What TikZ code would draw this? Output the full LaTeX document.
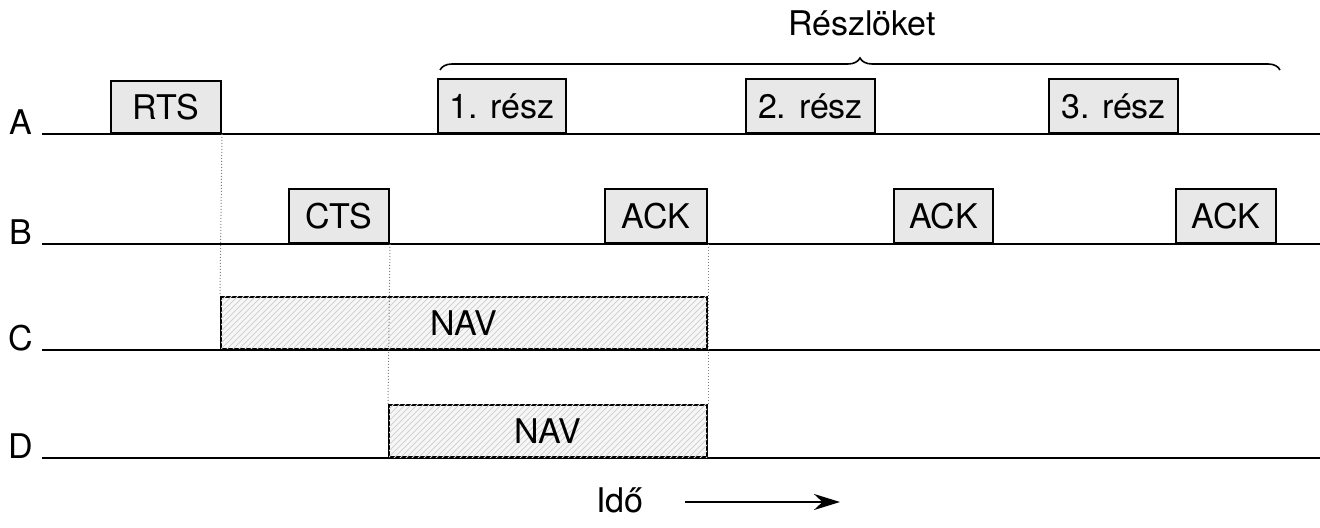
\documentclass[tikz,border=0pt]{standalone}
\usepackage{fontspec}
\setmainfont{TeX Gyre Heros}
\usetikzlibrary{arrows.meta, positioning, calc, decorations.pathreplacing, patterns}

\begin{document}
\begin{tikzpicture}[x=0.5pt, y=-0.5pt, >=Stealth,
    font=\fontsize{17}{20}\selectfont,
    pw/.style={minimum width=#1*0.5pt},
    pkt/.style={draw, line width=1pt, fill=gray!18, inner sep=0pt,
      minimum height=27pt, anchor=south west},
    nav/.style={pkt, minimum height=26pt, fill=gray!6, postaction={pattern=north east lines, pattern color=gray!35}},
    guide/.style={densely dotted, gray, line width=0.5pt}]
  \useasboundingbox (0,0) rectangle (1320,528);
  % Stations and their time lines
  \foreach \n/\y in {A/134, B/244, C/350, D/458} {
    \node (lbl\n) at (21,\y-12) {\n};
    \coordinate (\n0) at (42,\y);
    \coordinate (\n1) at (1320,\y);
    \draw[line width=1pt] (\n0) -- (\n1);
  }
  % A: RTS and the fragments
  \node[pkt, pw=110, minimum height=26pt] (rts) at (110,134) {RTS};
  \node[pkt, pw=128] (p1) at (437,134) {1. rész};
  \node[pkt, pw=129] (p2) at (745,134) {2. rész};
  \node[pkt, pw=129] (p3) at (1048,134) {3. rész};
  % B: CTS and the acknowledgements
  \node[pkt, pw=100] (cts) at (288,244) {CTS};
  \node[pkt, pw=102] (ack1) at (604,244) {ACK};
  \node[pkt, pw=99] (ack2) at (893,244) {ACK};
  \node[pkt, pw=100] (ack3) at (1175,244) {ACK};
  % C and D: network allocation vectors
  \node[nav, pw=486] (navc) at (220,350) {NAV};
  \node[nav, pw=318] (navd) at (388,458) {NAV};
  % Dotted guides
  \draw[guide] (rts.south east) -- (navc.north west);
  \draw[guide] (cts.south east) -- (navd.north west);
  \draw[guide] (ack1.south east) -- (navd.north east);
  % Fragment burst brace
  \coordinate (bl) at (440,70);
  \coordinate (br) at (1280,70);
  \draw[line width=0.8pt, decorate, decoration={brace, amplitude=6pt}] (bl) -- (br);
  \node (burst) at (862,23) {Részlöket};
  % Time axis
  \node (ido) at (620,500) {Idő};
  \coordinate (t0) at (685,502);
  \coordinate (t1) at (840,502);
  \draw[->, line width=1.4pt, >={Stealth[length=13pt, width=8pt]}] (t0) -- (t1);
\end{tikzpicture}
\end{document}
